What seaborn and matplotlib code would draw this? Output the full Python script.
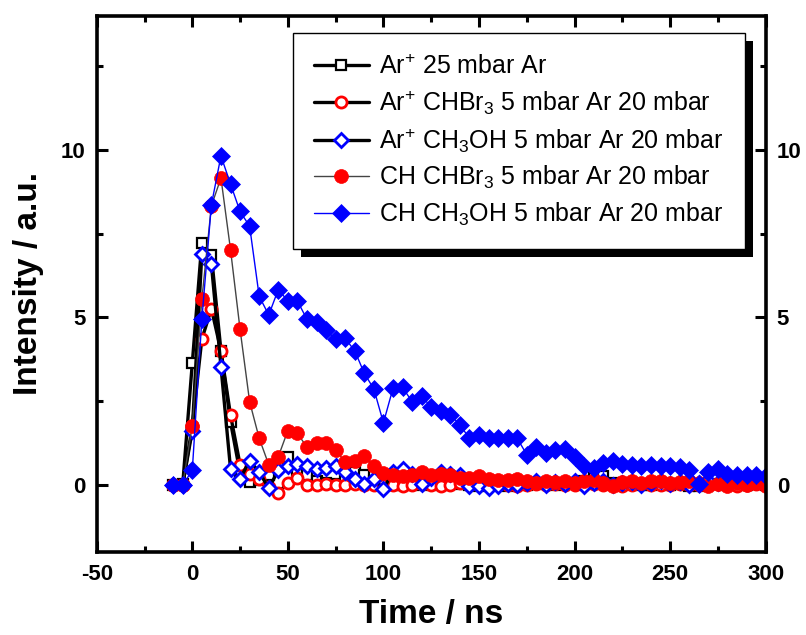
import matplotlib
matplotlib.use("Agg")
import matplotlib.pyplot as plt
import seaborn as sns
import pandas as pd
from matplotlib.patches import Rectangle
from matplotlib.ticker import MultipleLocator

sns.set_style("ticks")
plt.rcParams['font.family'] = ['Liberation Sans', 'DejaVu Sans']
plt.rcParams['mathtext.default'] = 'regular'
plt.rcParams['axes.unicode_minus'] = False
plt.rcParams['text.color'] = 'black'
plt.rcParams['axes.labelcolor'] = 'black'
plt.rcParams['xtick.color'] = 'black'
plt.rcParams['ytick.color'] = 'black'

time_ns = [-10, -5, 0, 5, 10, 15, 20, 25, 30, 35, 40, 45, 50, 55, 60, 65, 70, 75,
           80, 85, 90, 95, 100, 105, 110, 115, 120, 125, 130, 135, 140, 145, 150,
           155, 160, 165, 170, 175, 180, 185, 190, 195, 200, 205, 210, 215, 220,
           225, 230, 235, 240, 245, 250, 255, 260, 265, 270, 275, 280, 285, 290,
           295, 300]

ar_25 = [0.0, 0.02, 3.63, 7.23, 6.85, 4.0, 1.88, 0.35, 0.08, 0.15, 0.3, 0.55, 0.82,
         0.4, 0.28, 0.1, 0.05, 0.03, 0.15, 0.38, 0.3, 0.1, 0.05, 0.0, -0.02, 0.05,
         0.0, 0.02, 0.0, 0.05, 0.02, 0.0, -0.03, 0.02, 0.0, -0.05, 0.03, 0.0, 0.02,
         0.05, 0.0, 0.03, 0.05, 0.1, 0.2, 0.26, 0.05, 0.0, 0.02, 0.0, -0.02, 0.05,
         0.0, 0.02, -0.05, -0.03, 0.0, 0.02, 0.0, 0.03, 0.0, 0.02, 0.0]

ar_chbr3 = [0.0, 0.0, 1.75, 4.35, 5.26, 4.0, 2.08, 0.6, 0.33, 0.18, -0.07, -0.24,
            0.06, 0.2, 0.0, 0.0, 0.03, 0.0, 0.0, 0.02, 0.0, 0.0, 0.0, 0.0, -0.05,
            0.0, 0.02, 0.0, -0.03, 0.0, 0.05, 0.0, -0.02, 0.0, 0.02, 0.0, -0.03,
            0.0, 0.02, 0.0, 0.03, 0.0, -0.02, 0.0, 0.02, 0.0, 0.0, -0.03, 0.0,
            0.02, 0.0, -0.02, 0.0, 0.03, 0.0, -0.02, 0.0, 0.02, 0.0, -0.03, 0.0,
            0.02, 0.0]

ar_ch3oh = [0.0, 0.0, 1.62, 6.9, 6.58, 3.53, 0.48, 0.18, 0.72, 0.38, -0.1, 0.43,
            0.57, 0.62, 0.55, 0.48, 0.5, 0.55, 0.38, 0.18, 0.03, 0.18, -0.12, 0.38,
            0.48, 0.33, 0.03, 0.2, 0.38, 0.33, 0.28, -0.05, -0.05, -0.1, -0.05,
            0.03, 0.0, 0.05, 0.1, 0.0, 0.08, 0.03, 0.1, -0.05, 0.05, 0.1, 0.0,
            0.05, 0.08, 0.0, 0.05, 0.1, 0.03, 0.08, 0.0, 0.05, 0.1, 0.05, 0.08,
            0.12, 0.05, 0.1, 0.12]

ch_chbr3 = [0.0, 0.0, 1.77, 5.54, 8.33, 9.16, 7.02, 4.64, 2.48, 1.39, 0.6, 0.84,
            1.62, 1.54, 1.12, 1.25, 1.25, 1.05, 0.67, 0.72, 0.85, 0.55, 0.34, 0.28,
            0.27, 0.3, 0.38, 0.3, 0.33, 0.28, 0.2, 0.2, 0.25, 0.18, 0.14, 0.14,
            0.18, 0.1, 0.05, 0.1, 0.08, 0.12, 0.05, 0.1, 0.15, 0.05, -0.05, 0.08,
            0.12, 0.05, 0.1, 0.12, 0.05, 0.08, 0.1, 0.05, -0.05, 0.02, -0.05, 0.05,
            -0.02, 0.05, -0.05]

ch_ch3oh = [0.0, 0.0, 0.43, 4.94, 8.36, 9.82, 8.98, 8.16, 7.72, 5.63, 5.07, 5.83,
            5.49, 5.49, 4.94, 4.86, 4.61, 4.35, 4.37, 4.0, 3.33, 2.86, 1.85, 2.88,
            2.91, 2.48, 2.66, 2.31, 2.21, 2.09, 1.79, 1.39, 1.49, 1.39, 1.39, 1.39,
            1.39, 0.9, 1.14, 0.95, 1.04, 1.06, 0.82, 0.57, 0.5, 0.66, 0.7, 0.62,
            0.58, 0.57, 0.58, 0.56, 0.55, 0.53, 0.44, 0.02, 0.38, 0.46, 0.33, 0.28,
            0.28, 0.28, 0.27]

labels = [
    r'Ar$^{+}$ 25 mbar Ar',
    r'Ar$^{+}$ CHBr$_{3}$ 5 mbar Ar 20 mbar',
    r'Ar$^{+}$ CH$_{3}$OH 5 mbar Ar 20 mbar',
    r'CH CHBr$_{3}$ 5 mbar Ar 20 mbar',
    r'CH CH$_{3}$OH 5 mbar Ar 20 mbar',
]

fig = plt.figure(figsize=(8.06, 6.35), dpi=100)
ax = fig.add_axes([0.120, 0.131, 0.830, 0.844])

styles = [
    dict(color='black', lw=2.4, marker='s', ms=6.5, mfc='white', mec='black', mew=1.6),
    dict(color='black', lw=2.4, marker='o', ms=8, mfc='white', mec='red', mew=2.0),
    dict(color='black', lw=2.4, marker='D', ms=7.5, mfc='white', mec='blue', mew=2.0),
    dict(color='#444444', lw=1.0, marker='o', ms=10, mfc='red', mec='red', mew=0.5),
    dict(color='blue', lw=1.0, marker='D', ms=9, mfc='blue', mec='blue', mew=0.5),
]
series = [ar_25, ar_chbr3, ar_ch3oh, ch_chbr3, ch_ch3oh]

for vals, lab, st in zip(series, labels, styles):
    df = pd.DataFrame({'t': time_ns, 'v': vals})
    sns.lineplot(data=df, x='t', y='v', ax=ax, label=lab, estimator=None, sort=False, **st)

ax.set_xlim(-50, 300)
ax.set_ylim(-2, 14)
ax.xaxis.set_major_locator(MultipleLocator(50))
ax.xaxis.set_minor_locator(MultipleLocator(25))
ax.yaxis.set_major_locator(MultipleLocator(5))
ax.yaxis.set_minor_locator(MultipleLocator(2.5))
ax.tick_params(which='both', direction='in', top=True, right=True, labelright=True,
               width=2.2, color='black', labelcolor='black')
ax.tick_params(which='major', length=8, labelsize=16)
ax.tick_params(axis='x', which='major', pad=9)
ax.tick_params(axis='y', which='major', pad=8)
ax.tick_params(which='minor', length=4)
for t in ax.xaxis.get_major_ticks() + ax.yaxis.get_major_ticks():
    t.label1.set_fontweight('bold')
    t.label2.set_fontweight('bold')
for sp in ax.spines.values():
    sp.set_linewidth(2.6)
    sp.set_color('black')

ax.set_xlabel('Time / ns', fontsize=24, fontweight='bold', labelpad=10, color='black')
ax.set_ylabel('Intensity / a.u.', fontsize=24, fontweight='bold', labelpad=12, color='black')

leg = ax.legend(loc='upper left', bbox_to_anchor=(0.293, 0.968), fontsize=18,
                frameon=True, fancybox=False, edgecolor='black', framealpha=1,
                handlelength=2.2, handletextpad=0.4, labelspacing=0.38,
                borderpad=0.85, borderaxespad=0)
leg.get_frame().set_linewidth(1.0)
leg.set_zorder(10)
for txt in leg.get_texts():
    txt.set_color('black')

fig.canvas.draw()
bb = leg.get_window_extent().transformed(ax.transAxes.inverted())
dx = 8 / ax.bbox.width
dy = 8 / ax.bbox.height
shadow = Rectangle((bb.x0 + dx, bb.y0 - dy), bb.width, bb.height,
                   transform=ax.transAxes, facecolor='black', edgecolor='none',
                   zorder=9, clip_on=False)
ax.add_patch(shadow)

fig.savefig('out.png', dpi=100)
